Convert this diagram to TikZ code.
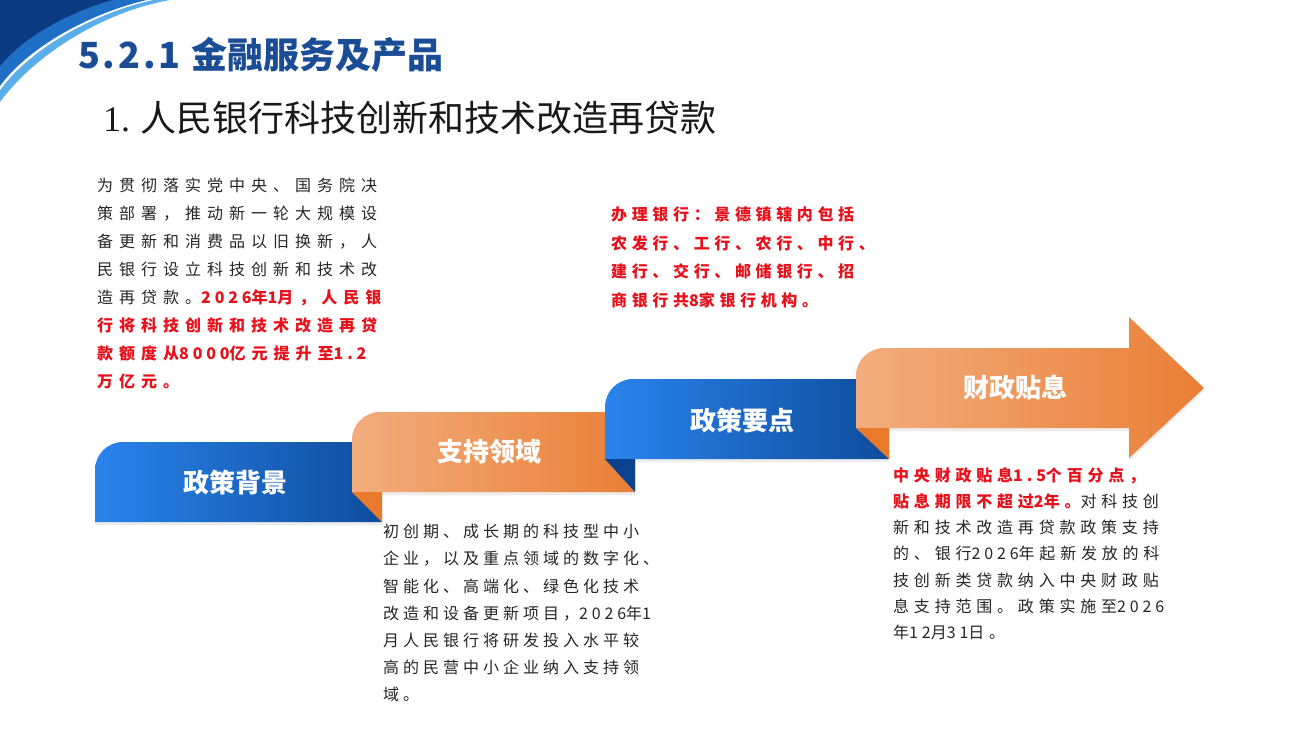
\documentclass[tikz,border=0pt]{standalone}
\usepackage{fontspec}
\setmainfont{Noto Sans CJK SC}
\newfontfamily\serifnum{Liberation Serif}
\usetikzlibrary{positioning,shadows}

\definecolor{titleblue}{HTML}{1B4C96}
\definecolor{navy}{HTML}{0A3A82}
\definecolor{midblue}{HTML}{1F6FC4}
\definecolor{skyblue}{HTML}{5AAEEA}
\definecolor{ribbonblueL}{HTML}{2A84EC}
\definecolor{ribbonblueD}{HTML}{0E4C9C}
\definecolor{ribbonorangeL}{HTML}{F2AD7E}
\definecolor{ribbonorangeD}{HTML}{EA7F36}
\definecolor{flapblue}{HTML}{0B4290}
\definecolor{flaporange}{HTML}{E97A2B}
\definecolor{hotred}{HTML}{E8101A}
\definecolor{bodygray}{HTML}{262626}

\newcommand{\redbold}[1]{{\bfseries\color{hotred}#1}}
\newcommand{\tracked}[3]{\fontsize{#1}{#2}\selectfont\addfontfeature{LetterSpace=#3}}
\newcommand{\digits}[1]{{\addfontfeature{LetterSpace=24}#1}}

\begin{document}
\begin{tikzpicture}[
    x=1pt, y=-1pt,
    ribbon/.style={drop shadow={opacity=0.15, shadow xshift=0pt, shadow yshift=-3pt}},
    blueribbon/.style={ribbon, left color=ribbonblueL, right color=ribbonblueD},
    orangeribbon/.style={ribbon, left color=ribbonorangeL, right color=ribbonorangeD},
    steplabel/.style={font=\fontsize{26}{30}\selectfont\bfseries, text=white, inner sep=0pt},
    bodytext/.style={anchor=north west, inner sep=0pt, align=left, text=bodygray},
    heading/.style={anchor=west, inner sep=0pt}
]
\useasboundingbox (0,0) rectangle (1300,731);
\fill[white] (0,0) rectangle (1300,731);

% ---------------------------------------------------------------- Corner swoosh
\fill[skyblue] (0,0) -- (170,0) .. controls (112,10) and (40,48) .. (0,102) -- cycle;
\fill[white]   (0,0) -- (153,0) .. controls (98,12) and (32,46) .. (0,90) -- cycle;
\fill[midblue] (0,0) -- (147,0) .. controls (94,12) and (30,45) .. (0,86) -- cycle;
\fill[navy]    (0,0) -- (112,0) .. controls (70,12) and (24,36) .. (0,66) -- cycle;

% ---------------------------------------------------------------- Titles
\node[heading, text=titleblue, font=\fontsize{36}{40}\selectfont\bfseries] (title) at (78,55)
    {{\addfontfeature{LetterSpace=8}5.2.1}\hspace{11pt}金融服务及产品};
\node[heading, text=black!90, font=\fontsize{36}{40}\selectfont] (subtitle) at (103,118)
    {{\serifnum 1.}\hspace{10pt}人民银行科技创新和技术改造再贷款};

% ---------------------------------------------------------------- Ribbons
\path[blueribbon] (95,522) -- (95,470) .. controls (95,454.5) and (107.5,442) .. (123,442)
    -- (382,442) -- (382,522) -- cycle;
\path[orangeribbon] (352,492) -- (352,440) .. controls (352,424.5) and (364.5,412) .. (380,412)
    -- (635,412) -- (635,492) -- cycle;
\fill[flaporange] (352,492) -- (382,492) -- (382,522) -- cycle;
\path[blueribbon] (605,459) -- (605,407) .. controls (605,391.5) and (617.5,379) .. (633,379)
    -- (889,379) -- (889,459) -- cycle;
\fill[flapblue] (605,459) -- (635,459) -- (635,492) -- cycle;
\path[orangeribbon] (856,428) -- (856,376) .. controls (856,360.5) and (868.5,348) .. (884,348)
    -- (1129,348) -- (1129,317) -- (1204,388) -- (1129,458) -- (1129,428) -- cycle;
\fill[flaporange] (856,428) -- (889,428) -- (889,459) -- cycle;

\node[steplabel] (background) at (235,483)  {政策背景};
\node[steplabel] (scope)      at (489,452)  {支持领域};
\node[steplabel] (keypoints)  at (742,421)  {政策要点};
\node[steplabel] (subsidy)    at (1015,388) {财政贴息};

% ---------------------------------------------------------------- Texts
\node[bodytext, font=\tracked{16}{27.9}{37.5}] (bgtext) at (97,178)
    {为贯彻落实党中央、国务院决\\
     策部署，推动新一轮大规模设\\
     备更新和消费品以旧换新，人\\
     民银行设立科技创新和技术改\\
     造再贷款。\redbold{\digits{2026}年\digits{1}月，人民银}\\
     \redbold{行将科技创新和技术改造再贷}\\
     \redbold{款额度从\digits{8000}亿元提升至\digits{1.2}}\\
     \redbold{万亿元。}};

\node[bodytext, font=\tracked{16}{28.5}{29}] (banks) at (611,207)
    {\redbold{办理银行：景德镇辖内包括}\\
     \redbold{农发行、工行、农行、中行、}\\
     \redbold{建行、交行、邮储银行、招}\\
     \redbold{商银行共\digits{8}家银行机构。}};

\node[bodytext, font=\tracked{16}{27.2}{25}] (scopetext) at (383,524)
    {初创期、成长期的科技型中小\\
     企业，以及重点领域的数字化、\\
     智能化、高端化、绿色化技术\\
     改造和设备更新项目，\digits{2026}年\digits{1}\\
     月人民银行将研发投入水平较\\
     高的民营中小企业纳入支持领\\
     域。};

\node[bodytext, font=\tracked{16}{26.3}{30}] (subsidytext) at (893,467)
    {\redbold{中央财政贴息\digits{1.5}个百分点，}\\
     \redbold{贴息期限不超过\digits{2}年。}对科技创\\
     新和技术改造再贷款政策支持\\
     的、银行\digits{2026}年起新发放的科\\
     技创新类贷款纳入中央财政贴\\
     息支持范围。政策实施至\digits{2026}\\
     年\digits{12}月\digits{31}日。};

\end{tikzpicture}
\end{document}
